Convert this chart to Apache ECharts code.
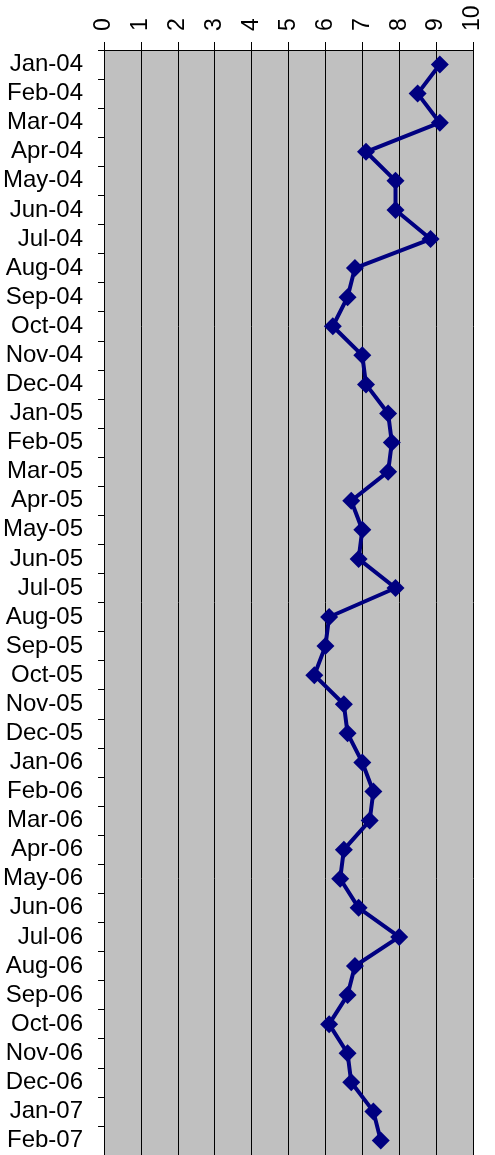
<!DOCTYPE html>
<html>
<head>
<meta charset="utf-8">
<script src="https://cdn.jsdelivr.net/npm/echarts@6/dist/echarts.min.js"></script>
<style>
  html, body { margin: 0; padding: 0; background: #fff; }
  #chart { width: 495px; height: 1155px; }
</style>
</head>
<body>
<div id="chart"></div>
<script>
// Monthly values
const months = [
  'Jan-04', 'Feb-04', 'Mar-04', 'Apr-04', 'May-04', 'Jun-04', 'Jul-04', 'Aug-04',
  'Sep-04', 'Oct-04', 'Nov-04', 'Dec-04', 'Jan-05', 'Feb-05', 'Mar-05', 'Apr-05',
  'May-05', 'Jun-05', 'Jul-05', 'Aug-05', 'Sep-05', 'Oct-05', 'Nov-05', 'Dec-05',
  'Jan-06', 'Feb-06', 'Mar-06', 'Apr-06', 'May-06', 'Jun-06', 'Jul-06', 'Aug-06',
  'Sep-06', 'Oct-06', 'Nov-06', 'Dec-06', 'Jan-07', 'Feb-07'
];
const values = [
  9.1, 8.5, 9.1, 7.1, 7.9, 7.9, 8.85, 6.8,
  6.6, 6.2, 7.0, 7.1, 7.7, 7.8, 7.7, 6.7,
  7.0, 6.9, 7.9, 6.1, 6.0, 5.7, 6.5, 6.6,
  7.0, 7.3, 7.2, 6.5, 6.4, 6.9, 8.0, 6.8,
  6.6, 6.1, 6.6, 6.7, 7.3, 7.5
];
const valueTicks = [0, 10, 1]; // min, max, interval

const FONT = "'Liberation Sans', Arial, sans-serif";
const chart = echarts.init(document.getElementById('chart'));

chart.setOption({
  animation: false,
  textStyle: { fontFamily: FONT },
  grid: { left: 101, right: 22, top: 50, bottom: -1, show: true, backgroundColor: '#c0c0c0', borderWidth: 0 },
  xAxis: {
    type: 'value', position: 'top',
    min: valueTicks[0], max: valueTicks[1], interval: valueTicks[2],
    axisLine: { show: true, lineStyle: { color: '#000', width: 1 } },
    axisTick: { show: true, length: 8, lineStyle: { color: '#000' } },
    axisLabel: { rotate: -90, margin: 19, fontSize: 23, color: '#000', fontFamily: FONT },
    splitLine: { show: true, lineStyle: { color: '#000', width: 1 } },
  },
  yAxis: {
    type: 'category', data: months, inverse: true, boundaryGap: true,
    axisLine: { show: true, lineStyle: { color: '#000', width: 1 } },
    axisTick: { show: true, length: 6, lineStyle: { color: '#000' } },
    axisLabel: { margin: 21, fontSize: 24, color: '#000', fontFamily: FONT, interval: 0 },
    splitLine: { show: false },
  },
  series: [{
    type: 'line', data: values,
    symbol: 'diamond', symbolSize: 18, showSymbol: true,
    lineStyle: { color: '#000080', width: 4 },
    itemStyle: { color: '#000080' },
  }],
});
</script>
</body>
</html>
